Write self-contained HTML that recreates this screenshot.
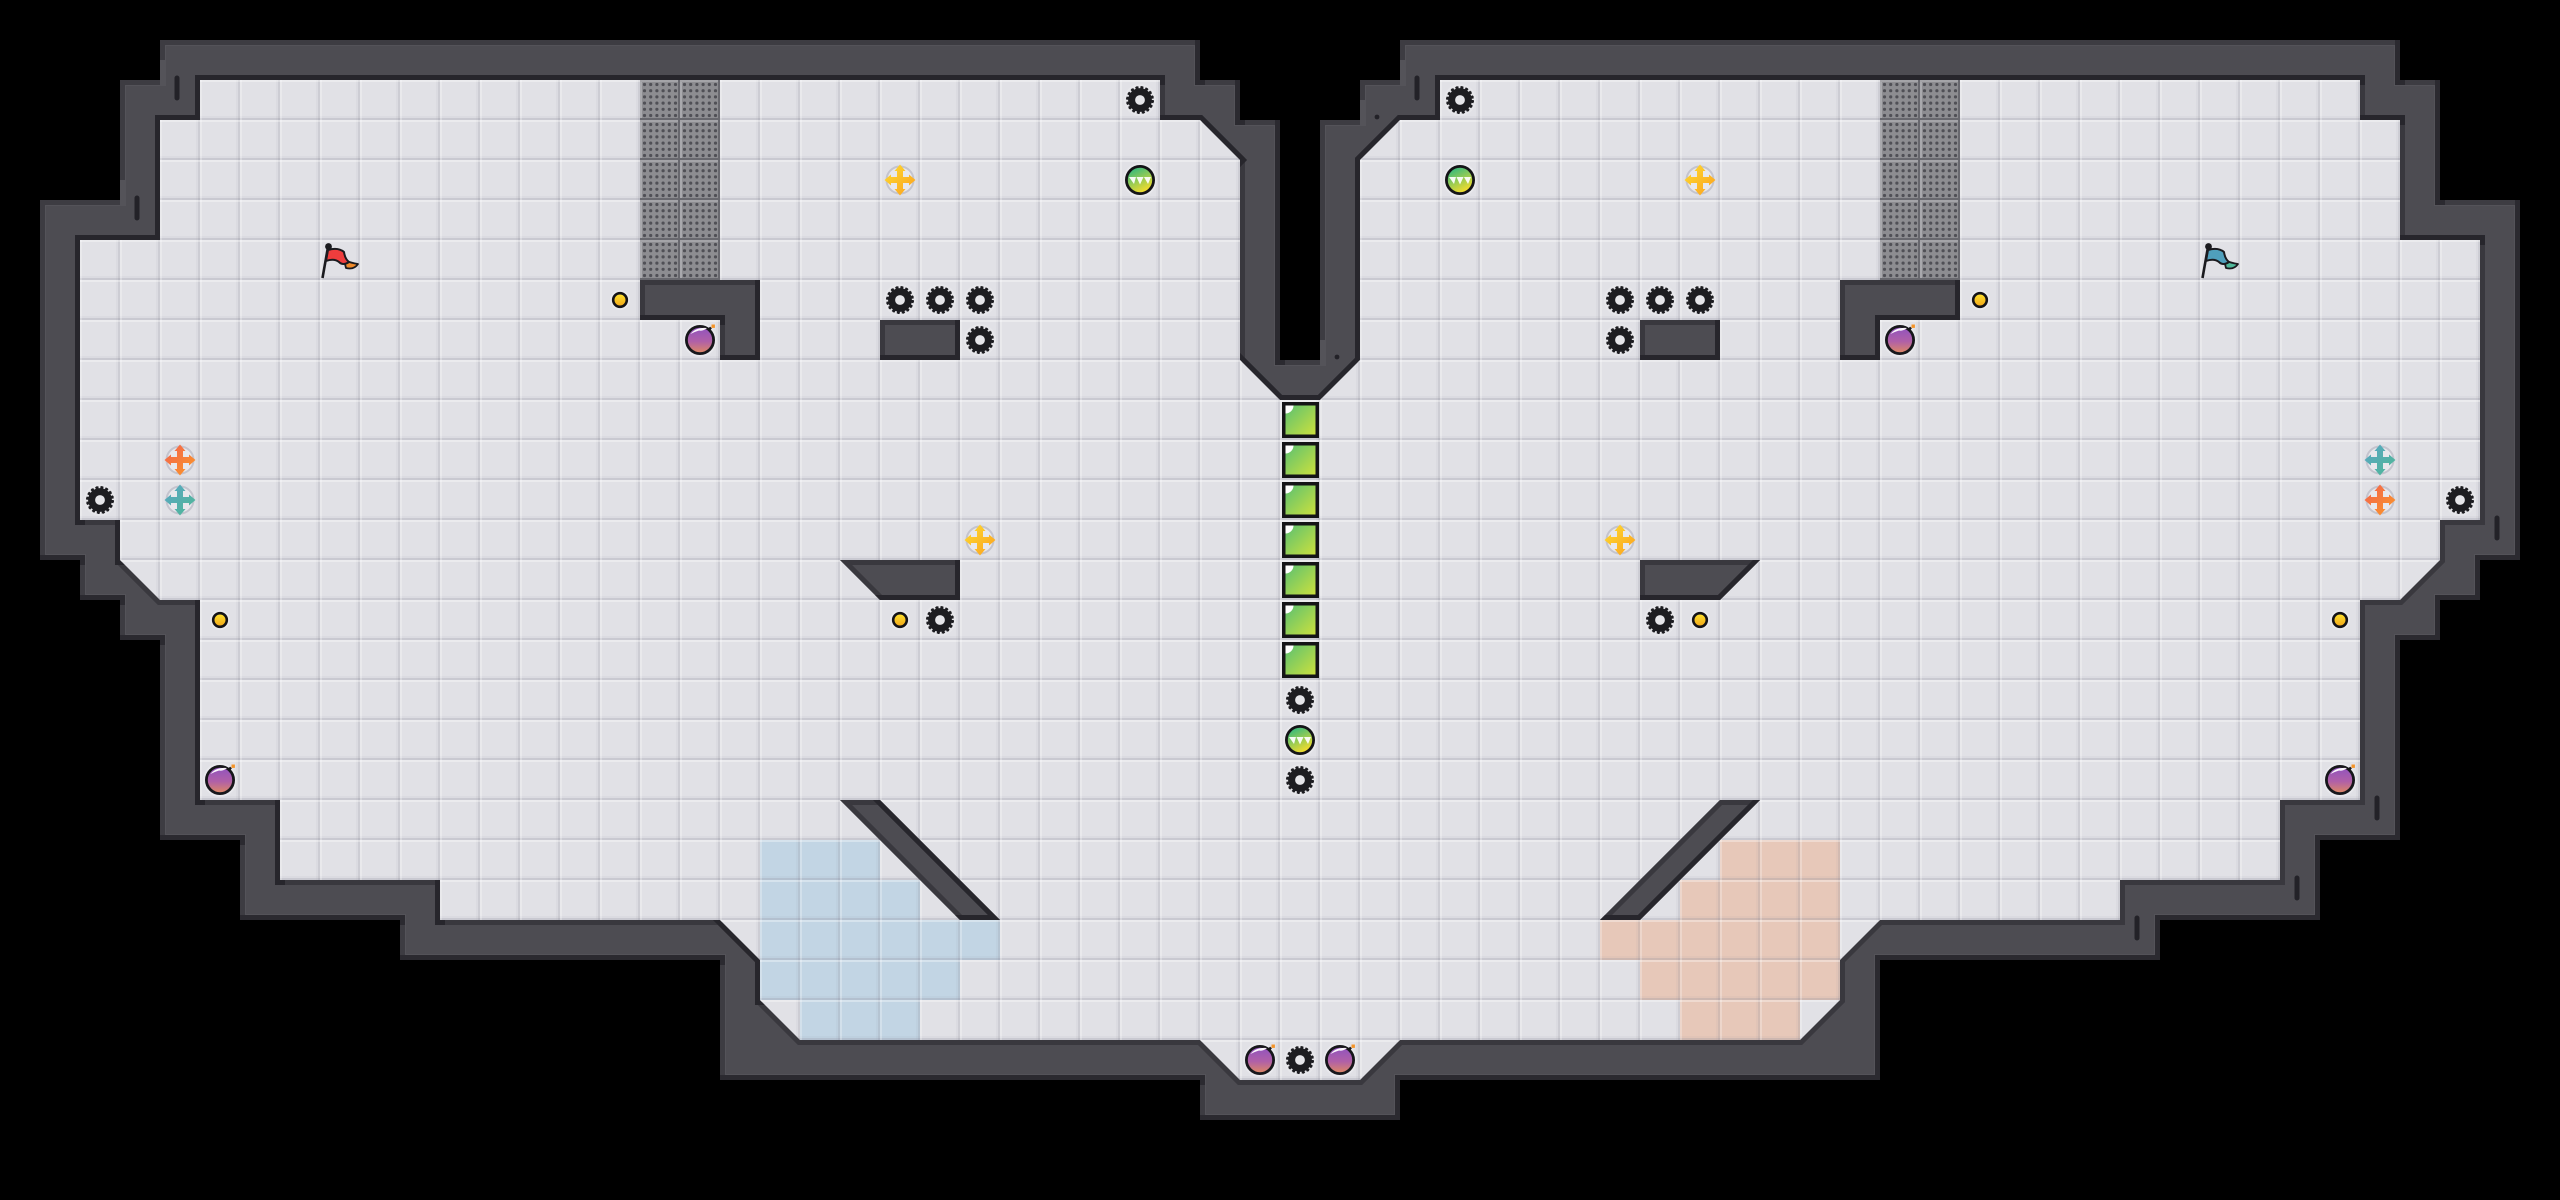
<!DOCTYPE html>
<html><head><meta charset="utf-8"><title>Level</title>
<style>html,body{margin:0;padding:0;background:#000}svg{display:block}</style></head>
<body>
<svg xmlns="http://www.w3.org/2000/svg" width="2560" height="1200" viewBox="0 0 2560 1200">
<defs>
<path id="outer" d="M160,40 V80 H120 V200 H40 V560 H80 V600 H120 V640 H160 V840 H240 V920 H400 V960 H720 V1080 H1200 V1120 H1400 V1080 H1880 V960 H2160 V920 H2320 V840 H2400 V640 H2440 V600 H2480 V560 H2520 V200 H2440 V80 H2400 V40 H1400 V80 H1360 V120 H1320 V360 H1280 V120 H1240 V80 H1200 V40 Z"/>
<path id="floor" d="M200,80 H1160 V120 H1200 L1240,160 V360 L1280,400 H1320 L1360,360 V160 L1400,120 H1440 V80 H2360 V120 H2400 V240 H2480 V520 H2440 V560 L2400,600 H2360 V800 H2280 V880 H2120 V920 H1880 L1840,960 V1000 L1800,1040 H1400 L1360,1080 H1240 L1200,1040 H800 L760,1000 V960 L720,920 H440 V880 H280 V800 H200 V600 H160 L120,560 V520 H80 V240 H160 V120 H200 Z"/>
<path id="isl" d="M640,280 H760 V360 H720 V320 H640 Z M880,320 H960 V360 H880 Z M840,560 H960 V600 H880 Z M840,800 H880 L1000,920 H960 Z M1840,280 H1960 V320 H1880 V360 H1840 Z M1640,320 H1720 V360 H1640 Z M1640,560 H1760 L1720,600 H1640 Z M1720,800 H1760 L1640,920 H1600 Z"/>
<clipPath id="cOuter"><use href="#outer"/></clipPath>
<clipPath id="cIsl"><use href="#isl"/></clipPath>

<pattern id="tile" patternUnits="userSpaceOnUse" width="40" height="40">
<rect x="36" y="0" width="2" height="40" fill="#8c8c99" opacity=".07"/>
<rect x="0" y="36" width="40" height="2" fill="#8c8c99" opacity=".07"/>
<rect x="38" y="0" width="2" height="40" fill="#8a8a96" opacity=".23"/>
<rect x="0" y="38" width="40" height="2" fill="#8a8a96" opacity=".27"/>
<rect x="0" y="0" width="40" height="2" fill="#fff" opacity=".33"/>
<rect x="0" y="0" width="2" height="40" fill="#fff" opacity=".26"/>
</pattern>
<pattern id="mesh" patternUnits="userSpaceOnUse" x="0" y="0" width="40" height="40">
<rect width="40" height="40" fill="#8d8d91"/>
<g stroke="#505056" stroke-width="3.2" stroke-linecap="round" stroke-dasharray="0 6.2" fill="none">
<path d="M4.5,4.5 H36"/><path d="M4.5,10.7 H36"/><path d="M4.5,16.9 H36"/><path d="M4.5,23.1 H36"/><path d="M4.5,29.3 H36"/><path d="M4.5,35.5 H36"/>
</g>
<rect x="0" y="0" width="2" height="40" fill="#a9a9ad"/>
<rect x="0" y="0" width="40" height="2" fill="#a4a4a8"/>
<rect x="38" y="0" width="2" height="40" fill="#68686e"/>
<rect x="0" y="38" width="40" height="2" fill="#68686e"/>
</pattern>

<linearGradient id="gBomb" x1="0" y1="0" x2="0" y2="1"><stop offset="0" stop-color="#8f52c0"/><stop offset=".55" stop-color="#b060a8"/><stop offset="1" stop-color="#e08a60"/></linearGradient>
<linearGradient id="gBall" x1=".25" y1="0" x2=".75" y2="1"><stop offset=".05" stop-color="#35b97e"/><stop offset=".9" stop-color="#f2dc2c"/></linearGradient>
<linearGradient id="gBlk" x1="0" y1="0" x2="1" y2="1"><stop offset="0" stop-color="#55bf74"/><stop offset="1" stop-color="#d2e23a"/></linearGradient>
<linearGradient id="gCoin" x1="0" y1="0" x2="0" y2="1"><stop offset="0" stop-color="#ffe62e"/><stop offset="1" stop-color="#f2a51a"/></linearGradient>
<linearGradient id="gY" x1="0" y1="0" x2="1" y2="1"><stop offset="0" stop-color="#fedd30"/><stop offset="1" stop-color="#fb9f20"/></linearGradient>
<linearGradient id="gO" x1="0" y1="0" x2="1" y2="1"><stop offset="0" stop-color="#f2604f"/><stop offset="1" stop-color="#fb9a28"/></linearGradient>
<linearGradient id="gT" x1="0" y1="0" x2="1" y2="1"><stop offset="0" stop-color="#5aa6c6"/><stop offset="1" stop-color="#4fb894"/></linearGradient>

<g id="gear">
<circle r="16" fill="#f2f2f5" opacity=".3"/>
<circle r="8.4" fill="none" stroke="#1d1d21" stroke-width="7"/>
<circle r="12" fill="none" stroke="#1d1d21" stroke-width="3.6" stroke-dasharray="2.9 1.812"/>
<circle r="13.3" fill="none" stroke="#1d1d21" stroke-width="1.5" stroke-dasharray="1.3 3.92" stroke-dashoffset="-.9"/>
</g>
<g id="bomb">
<circle r="17" fill="#f4f4f7" opacity=".45"/>
<circle r="13.6" fill="url(#gBomb)" stroke="#17171b" stroke-width="2.8"/>
<path d="M-9.5,-6 Q-4,-13 7,-12 Q3,-8.5 -1,-9.5 Q-6,-8 -9.5,-6Z" fill="#fff" opacity=".95"/>
<path d="M8.5,-10 L11,-12.5" stroke="#17171b" stroke-width="2.6"/>
<rect x="11.5" y="-15.5" width="3.4" height="3.4" fill="#f5952a"/>
</g>
<g id="ball">
<circle r="17" fill="#f4f4f7" opacity=".4"/>
<circle r="13.6" fill="url(#gBall)" stroke="#141417" stroke-width="2.8"/>
<path d="M-11,-3 h7 l-2,7 z M-3.5,-3 h7 l-3.5,7.5 z M4,-3 h7 l-3,7 z" fill="#fff" opacity=".92"/>
</g>
<g id="coin">
<circle r="10" fill="#f4f4f7" opacity=".4"/>
<circle r="6.8" fill="url(#gCoin)" stroke="#141417" stroke-width="2.6"/>
</g>
<g id="blk">
<rect x="-16.25" y="-16.25" width="33.5" height="32.5" fill="url(#gBlk)" stroke="#141417" stroke-width="3.5"/>
<path d="M-14.5,-14.5 h8 a8,8 0 0 1 -8,8 z" fill="#fff"/>
</g>
<path id="crossP" d="M-3,-9 L-5.5,-9 L0,-15.5 L5.5,-9 L3,-9 L3,-3 L9,-3 L9,-5.5 L15.5,0 L9,5.5 L9,3 L3,3 L3,9 L5.5,9 L0,15.5 L-5.5,9 L-3,9 L-3,3 L-9,3 L-9,5.5 L-15.5,0 L-9,-5.5 L-9,-3 L-3,-3 Z"/>
<circle id="crossB" r="13.5" fill="#eaeaee" stroke="#bfbfca" stroke-width="2" opacity=".85"/>
</defs>

<rect width="2560" height="1200" fill="#000"/>

<!-- outer wall -->
<g clip-path="url(#cOuter)">
<rect width="2560" height="1200" fill="#4d4c52"/>
<use href="#outer" fill="none" stroke="#5a595f" stroke-width="12" opacity=".6"/>
<path fill="none" stroke="#3d3c42" stroke-width="10" d="M160,40 V60 M160,80 H120 V180 M120,200 H40 V560 M80,560 V600 M120,600 V640 M160,640 V840 M240,840 V920 M400,920 V960 M720,960 V1080 M1200,1080 V1120 M2520,200 H2440 M2440,80 H2400 M2400,40 H1400 V60 M1400,80 H1360 V100 M1360,120 H1320 V340 M1320,360 H1280 M1280,120 H1240 M1240,80 H1200 M1200,40 H160"/>
<path fill="none" stroke="#2b2a30" stroke-width="10" stroke-linecap="square" d="M40,560 H80 M80,600 H120 M120,640 H160 M160,840 H240 M240,920 H400 M400,960 H720 M720,1080 H1200 M1200,1120 H1400 V1080 H1880 V960 H2160 V920 H2320 V840 H2400 V640 H2440 V600 H2480 V560 H2520 V200 M2440,200 V80 M2400,80 V40 M1280,360 V120 M1240,120 V80 M1200,80 V40"/>
<use href="#floor" fill="none" stroke="#39383e" stroke-width="10"/>
<path fill="none" stroke="#27262c" stroke-width="10" stroke-linecap="square" d="M200,80 H1160 M1160,120 H1200 L1240,160 M1240,360 L1280,400 H1320 L1360,360 V160 L1400,120 H1440 V80 H2360 M2360,120 H2400 M2400,240 H2480 M760,1000 V960 L720,920 M440,920 V880 M280,880 V800 M200,800 V600 M120,560 V520 M80,520 V240 H160 V120 H200 V80"/>
<!-- ticks -->
<g stroke="#232228" stroke-width="5" stroke-linecap="round">
<path d="M177,78 V98 M137,198 V218 M1417,78 V98 M2497,518 V538 M2377,798 V818 M2297,878 V898 M2137,918 V938"/>
</g>
<circle cx="1377" cy="117" r="2.4" fill="#232228"/>
<circle cx="1337" cy="357" r="2.4" fill="#232228"/>
</g>

<!-- floor -->
<use href="#floor" fill="#e1e1e6"/>
<path fill="#c2d5e4" d="M760,840 H880 V880 H920 V920 H1000 V960 H960 V1000 H920 V1040 H800 V1000 H760 Z"/>
<path fill="#e7c8b9" d="M1720,840 H1840 V1000 H1800 V1040 H1680 V1000 H1640 V960 H1600 V920 H1680 V880 H1720 Z"/>
<use href="#floor" fill="url(#tile)"/>

<!-- mesh -->
<rect x="640" y="80" width="80" height="200" fill="url(#mesh)"/>
<rect x="1880" y="80" width="80" height="200" fill="url(#mesh)"/>

<!-- islands -->
<use href="#isl" fill="#4d4c52"/>
<g clip-path="url(#cIsl)">
<use href="#isl" fill="none" stroke="#39383e" stroke-width="10"/>
<path fill="none" stroke="#27262c" stroke-width="10" stroke-linecap="square" d="M760,280 V360 H720 M720,320 H640 M960,320 V360 H880 M960,560 V600 H880 M880,800 L1000,920 H960 M1960,280 V320 H1880 V360 H1840 M1720,320 V360 H1640 M1760,560 L1720,600 H1640 M1760,800 L1640,920 H1600"/>
</g>

<!-- green blocks -->
<use href="#blk" x="1300" y="420"/>
<use href="#blk" x="1300" y="460"/>
<use href="#blk" x="1300" y="500"/>
<use href="#blk" x="1300" y="540"/>
<use href="#blk" x="1300" y="580"/>
<use href="#blk" x="1300" y="620"/>
<use href="#blk" x="1300" y="660"/>

<!-- gears -->
<use href="#gear" x="1140" y="100"/>
<use href="#gear" x="1460" y="100"/>
<use href="#gear" x="900" y="300"/>
<use href="#gear" x="940" y="300"/>
<use href="#gear" x="980" y="300"/>
<use href="#gear" x="980" y="340"/>
<use href="#gear" x="1620" y="300"/>
<use href="#gear" x="1660" y="300"/>
<use href="#gear" x="1700" y="300"/>
<use href="#gear" x="1620" y="340"/>
<use href="#gear" x="100" y="500"/>
<use href="#gear" x="2460" y="500"/>
<use href="#gear" x="940" y="620"/>
<use href="#gear" x="1660" y="620"/>
<use href="#gear" x="1300" y="700"/>
<use href="#gear" x="1300" y="780"/>
<use href="#gear" x="1300" y="1060"/>

<!-- bombs -->
<use href="#bomb" x="700" y="340"/>
<use href="#bomb" x="1900" y="340"/>
<use href="#bomb" x="220" y="780"/>
<use href="#bomb" x="2340" y="780"/>
<use href="#bomb" x="1260" y="1060"/>
<use href="#bomb" x="1340" y="1060"/>

<!-- green balls -->
<use href="#ball" x="1140" y="180"/>
<use href="#ball" x="1460" y="180"/>
<use href="#ball" x="1300" y="740"/>

<!-- coins -->
<use href="#coin" x="620" y="300"/>
<use href="#coin" x="1980" y="300"/>
<use href="#coin" x="220" y="620"/>
<use href="#coin" x="2340" y="620"/>
<use href="#coin" x="900" y="620"/>
<use href="#coin" x="1700" y="620"/>

<!-- crosses -->
<g transform="translate(900,180)"><use href="#crossB"/><use href="#crossP" fill="url(#gY)"/></g>
<g transform="translate(1700,180)"><use href="#crossB"/><use href="#crossP" fill="url(#gY)"/></g>
<g transform="translate(980,540)"><use href="#crossB"/><use href="#crossP" fill="url(#gY)"/></g>
<g transform="translate(1620,540)"><use href="#crossB"/><use href="#crossP" fill="url(#gY)"/></g>
<g transform="translate(180,460)"><use href="#crossB"/><use href="#crossP" fill="url(#gO)"/></g>
<g transform="translate(180,500)"><use href="#crossB"/><use href="#crossP" fill="url(#gT)"/></g>
<g transform="translate(2380,460)"><use href="#crossB"/><use href="#crossP" fill="url(#gT)"/></g>
<g transform="translate(2380,500)"><use href="#crossB"/><use href="#crossP" fill="url(#gO)"/></g>

<!-- flags -->
<g>
<path d="M344,260 Q351,263 358,264 Q354,270 346,268 Z" fill="#f08a2a" stroke="#1b1b1f" stroke-width="1.8" stroke-linejoin="round"/>
<path d="M328,250 Q338,247 344,252 Q345,259 349,262 Q343,266 339,262 Q334,258 326,261 Z" fill="#ee3d3d" stroke="#1b1b1f" stroke-width="2" stroke-linejoin="round"/>
<path d="M328,247 L322.5,278" stroke="#1b1b1f" stroke-width="2.6" fill="none"/>
<circle cx="328.5" cy="246.5" r="3.4" fill="#1b1b1f"/>
</g>
<g transform="translate(1880,0)">
<path d="M344,260 Q351,263 358,264 Q354,270 346,268 Z" fill="#4fb89a" stroke="#1b1b1f" stroke-width="1.8" stroke-linejoin="round"/>
<path d="M328,250 Q338,247 344,252 Q345,259 349,262 Q343,266 339,262 Q334,258 326,261 Z" fill="#4f9fbc" stroke="#1b1b1f" stroke-width="2" stroke-linejoin="round"/>
<path d="M328,247 L322.5,278" stroke="#1b1b1f" stroke-width="2.6" fill="none"/>
<circle cx="328.5" cy="246.5" r="3.4" fill="#1b1b1f"/>
</g>
</svg>
</body></html>
